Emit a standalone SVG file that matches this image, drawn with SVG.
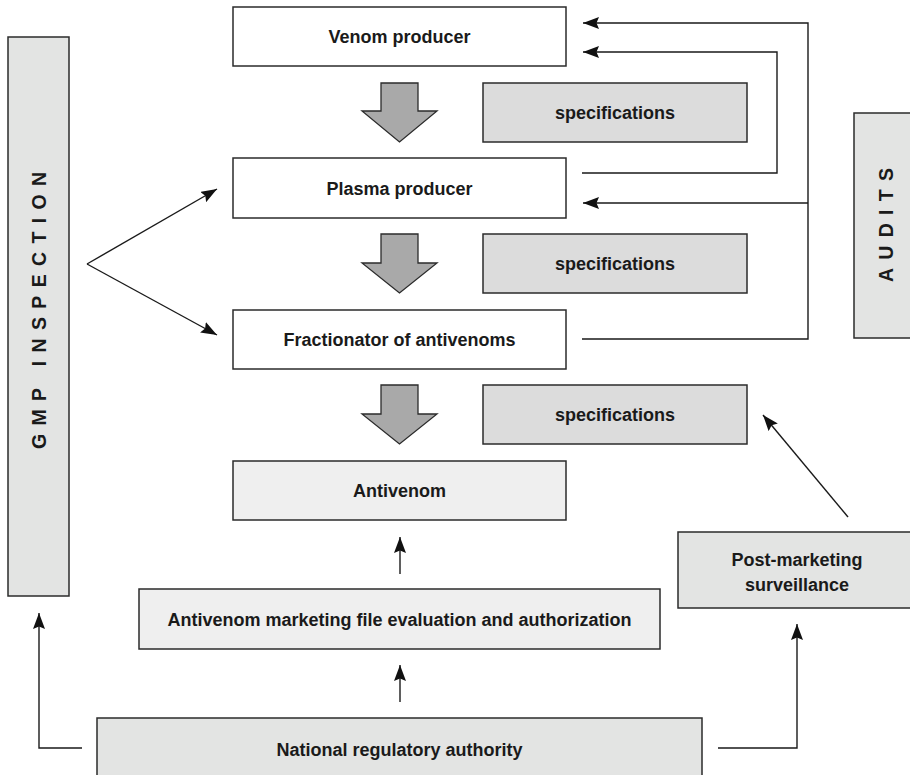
<svg xmlns="http://www.w3.org/2000/svg" width="910" height="775" viewBox="0 0 910 775">
  <style>
    .box { stroke: #2b2b2b; stroke-width: 1.5; }
    .white { fill: #ffffff; }
    .light { fill: #efefef; }
    .mid { fill: #e3e4e3; }
    .spec { fill: #dcdcdc; }
    .flow { fill: #a9a9a9; stroke: #2b2b2b; stroke-width: 1.3; stroke-linejoin: miter; }
    .lbl { font-family: "Liberation Sans", Arial, sans-serif; font-weight: bold; font-size: 18px; fill: #1a1a1a; text-anchor: middle; }
    .side { font-family: "Liberation Sans", Arial, sans-serif; font-weight: bold; font-size: 19.5px; fill: #1a1a1a; text-anchor: middle; }
    .link { fill: none; stroke: #1a1a1a; stroke-width: 1.4; }
  </style>
  <defs>
    <marker id="head" viewBox="0 0 16 12" refX="16" refY="6" markerWidth="16" markerHeight="12" markerUnits="userSpaceOnUse" orient="auto">
      <path d="M0,0 L16,6 L0,12 L2.5,6 z" fill="#111111"/>
    </marker>
  </defs>

  <!-- side bars -->
  <g id="gmp-inspection">
    <rect class="box mid" x="8" y="37" width="61" height="559"/>
    <text class="side" transform="translate(45.5,310.5) rotate(-90)" textLength="277" lengthAdjust="spacing">GMP INSPECTION</text>
  </g>
  <g id="audits">
    <rect class="box mid" x="854" y="113" width="70" height="225"/>
    <text class="side" transform="translate(892.5,225) rotate(-90)" textLength="114" lengthAdjust="spacing">AUDITS</text>
  </g>

  <!-- production chain -->
  <g id="venom-producer">
    <rect class="box white" x="233" y="7" width="333" height="59"/>
    <text class="lbl" x="399.5" y="43">Venom producer</text>
  </g>
  <g id="plasma-producer">
    <rect class="box white" x="233" y="158" width="333" height="60"/>
    <text class="lbl" x="399.5" y="194.5">Plasma producer</text>
  </g>
  <g id="fractionator">
    <rect class="box white" x="233" y="310" width="333" height="59"/>
    <text class="lbl" x="399.5" y="346">Fractionator of antivenoms</text>
  </g>
  <g id="antivenom">
    <rect class="box light" x="233" y="461" width="333" height="59"/>
    <text class="lbl" x="399.5" y="497">Antivenom</text>
  </g>

  <!-- specifications -->
  <g id="spec-1">
    <rect class="box spec" x="483" y="83" width="264" height="59"/>
    <text class="lbl" x="615" y="118.5">specifications</text>
  </g>
  <g id="spec-2">
    <rect class="box spec" x="483" y="234" width="264" height="59"/>
    <text class="lbl" x="615" y="269.5">specifications</text>
  </g>
  <g id="spec-3">
    <rect class="box spec" x="483" y="385" width="264" height="59"/>
    <text class="lbl" x="615" y="420.5">specifications</text>
  </g>

  <!-- regulatory -->
  <g id="marketing-evaluation">
    <rect class="box light" x="139" y="589" width="521" height="60"/>
    <text class="lbl" x="399.5" y="626">Antivenom marketing file evaluation and authorization</text>
  </g>
  <g id="post-marketing">
    <rect class="box mid" x="678" y="532" width="250" height="76"/>
    <text class="lbl" x="797" y="566">Post-marketing</text>
    <text class="lbl" x="797" y="591">surveillance</text>
  </g>
  <g id="national-authority">
    <rect class="box mid" x="97" y="718" width="605" height="80"/>
    <text class="lbl" x="399.5" y="756">National regulatory authority</text>
  </g>

  <!-- block flow arrows -->
  <g id="flow-arrows">
    <polygon class="flow" points="381,83 418,83 418,111 437,111 399.5,142 362,111 381,111"/>
    <polygon class="flow" points="381,234 418,234 418,263 437,263 399.5,293 362,263 381,263"/>
    <polygon class="flow" points="381,385 418,385 418,414 437,414 399.5,444 362,414 381,414"/>
  </g>

  <!-- connectors -->
  <g id="connectors">
    <path class="link" d="M582,173 H777 V52 H583" marker-end="url(#head)"/>
    <path class="link" d="M582,339 H808 V23 H583" marker-end="url(#head)"/>
    <path class="link" d="M808,203 H583" marker-end="url(#head)"/>
    <path class="link" d="M87,264 L217,189" marker-end="url(#head)"/>
    <path class="link" d="M87,264 L217,335" marker-end="url(#head)"/>
    <path class="link" d="M400,574 V537" marker-end="url(#head)"/>
    <path class="link" d="M400,702 V665" marker-end="url(#head)"/>
    <path class="link" d="M82,748 H39 V613" marker-end="url(#head)"/>
    <path class="link" d="M718,748 H797 V624" marker-end="url(#head)"/>
    <path class="link" d="M848,517 L763,415" marker-end="url(#head)"/>
  </g>
</svg>
